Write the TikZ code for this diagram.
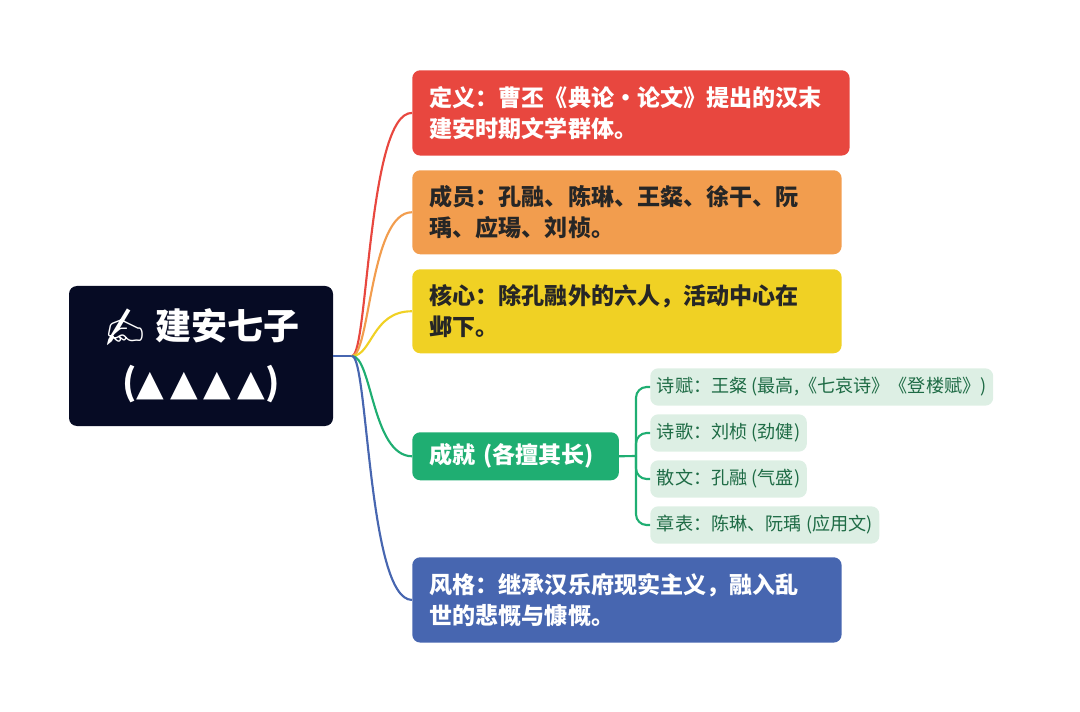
\documentclass[tikz,border=0pt]{standalone}
\usepackage{fontspec}
\setmainfont{Noto Sans CJK SC}
\newfontfamily\emojifont{Noto Emoji}
\newfontfamily\symfont{DejaVu Sans}
\usepackage{tikz}
\usetikzlibrary{calc}
\definecolor{rootblue}{HTML}{060B24}
\definecolor{myred}{HTML}{E8473F}
\definecolor{myorange}{HTML}{F29D4E}
\definecolor{myyellow}{HTML}{F0D124}
\definecolor{mygreen}{HTML}{1FAE72}
\definecolor{myblue}{HTML}{4766B0}
\definecolor{leafbg}{HTML}{DDEFE4}
\definecolor{leaftext}{HTML}{1E6B45}
\tikzset{
    branch/.style={anchor=north west, rounded corners=6pt, inner xsep=0pt, inner ysep=0pt, text=white, font=\bfseries\fontsize{17.3}{23}\selectfont, align=left},
    leaf/.style={anchor=west, fill=leafbg, rounded corners=6pt, text=leaftext, font=\fontsize{13.6}{15}\selectfont, minimum height=28pt, inner xsep=5pt},
    link/.style={line width=1.6pt}
}
\begin{document}
\begin{tikzpicture}[x=0.75pt, y=-0.75pt]
    \useasboundingbox (0,0) rectangle (1080,712);

    \node[fill=rootblue, rounded corners=6pt, minimum width=198pt, minimum height=105pt, text=white,
          align=center, font=\bfseries\fontsize{27}{42}\selectfont] (root) at (201,356)
        {{\emojifont ✍} 建安七子\\({\symfont ▲\,▲\,▲\,▲})};

    \path (412,70) node[branch, fill=myred, minimum width=328pt, minimum height=64pt, text width=328pt] (def)
        {\hspace*{13pt}定义：曹丕《典论·论文》提出的汉末\\\hspace*{13pt}建安时期文学群体。};
    \path (412,170) node[branch, fill=myorange, minimum width=322pt, minimum height=63pt, text width=322pt, text=black!85] (mem)
        {\hspace*{13pt}成员：孔融、陈琳、王粲、徐干、阮\\\hspace*{13pt}瑀、应瑒、刘桢。};
    \path (412,269) node[branch, fill=myyellow, minimum width=322pt, minimum height=63pt, text width=322pt, text=black!85] (core)
        {\hspace*{13pt}核心：除孔融外的六人，活动中心在\\\hspace*{13pt}邺下。};
    \path (412,432) node[branch, fill=mygreen, minimum width=155pt, minimum height=36pt, text width=155pt] (ach)
        {\hspace*{13pt}成就 (各擅其长)};
    \path (412,557) node[branch, fill=myblue, minimum width=322pt, minimum height=64pt, text width=322pt] (style)
        {\hspace*{13pt}风格：继承汉乐府现实主义，融入乱\\\hspace*{13pt}世的悲慨与慷慨。};

    \node[leaf] (l1) at (650,387) {诗赋：王粲 (最高,《七哀诗》《登楼赋》)};
    \node[leaf] (l2) at (650,433) {诗歌：刘桢 (劲健)};
    \node[leaf] (l3) at (650,479) {散文：孔融 (气盛)};
    \node[leaf] (l4) at (650,525) {章表：陈琳、阮瑀 (应用文)};

    \coordinate (hub) at (352,356);
    \draw[link, myblue] (root.east) -- (hub);
    \draw[link, myred] (hub) .. controls (368,356) and (368,112) .. (def.west);
    \draw[link, myorange] (hub) .. controls (370,356) and (370,212) .. (mem.west);
    \draw[link, myyellow] (hub) .. controls (372,356) and (372,311) .. (core.west);
    \draw[link, mygreen] (hub) .. controls (372,356) and (372,456) .. (ach.west);
    \draw[link, myblue] (hub) .. controls (368,356) and (368,600) .. (style.west);

    \coordinate (fork) at (636,456);
    \draw[link, mygreen] (ach.east) -- (fork);
    \foreach \l in {l1,l2,l3,l4}
        \draw[link, mygreen, rounded corners=8pt] (fork) -- (fork |- \l.west) -- (\l.west);
\end{tikzpicture}
\end{document}
